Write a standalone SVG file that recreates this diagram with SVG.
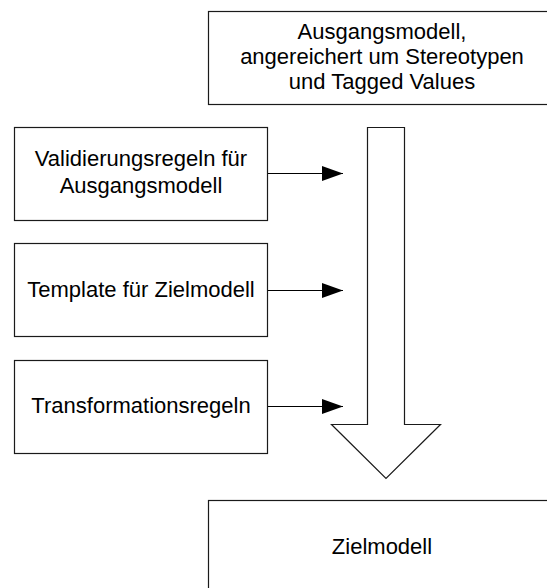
<svg xmlns="http://www.w3.org/2000/svg" width="547" height="588" viewBox="0 0 547 588">
<defs>
<style>
.box{fill:#fff;stroke:#1a1a1a;stroke-width:1.2}
.t{font-family:"Liberation Sans",Arial,sans-serif;font-size:22px;fill:#000;text-anchor:middle}
.c{stroke:#000;stroke-width:1.2;fill:none}
</style>
<marker id="ah" viewBox="0 0 21 15" refX="21" refY="7.5" markerWidth="21" markerHeight="15" markerUnits="userSpaceOnUse" orient="auto">
<path d="M0,0 L21,7.5 L0,15 Z" fill="#000"/>
</marker>
</defs>
<rect width="547" height="588" fill="#fff"/>
<g id="ausgangsmodell">
<rect class="box" x="208.5" y="11.5" width="350" height="93"/>
<text class="t" x="382" y="39">Ausgangsmodell,</text>
<text class="t" x="382" y="64">angereichert um Stereotypen</text>
<text class="t" x="382" y="89">und Tagged Values</text>
</g>
<g id="validierungsregeln">
<rect class="box" x="14.5" y="127.5" width="253" height="93"/>
<text class="t" x="141" y="166">Validierungsregeln für</text>
<text class="t" x="141" y="193">Ausgangsmodell</text>
</g>
<g id="template">
<rect class="box" x="14.5" y="243.5" width="253" height="93"/>
<text class="t" x="141" y="297">Template für Zielmodell</text>
</g>
<g id="transformationsregeln">
<rect class="box" x="14.5" y="360.5" width="253" height="93"/>
<text class="t" x="141" y="413">Transformationsregeln</text>
</g>
<g id="transformation-pfeil">
<polygon class="box" points="367.5,127.5 404.5,127.5 404.5,424.5 440.5,424.5 386,478.5 331.5,424.5 367.5,424.5"/>
</g>
<g id="zielmodell">
<rect class="box" x="208.5" y="500.5" width="350" height="100"/>
<text class="t" x="382" y="554">Zielmodell</text>
</g>
<g id="connectors">
<line class="c" x1="268" y1="173.5" x2="343" y2="173.5" marker-end="url(#ah)"/>
<line class="c" x1="268" y1="290.5" x2="343" y2="290.5" marker-end="url(#ah)"/>
<line class="c" x1="268" y1="406.5" x2="343" y2="406.5" marker-end="url(#ah)"/>
</g>
</svg>
